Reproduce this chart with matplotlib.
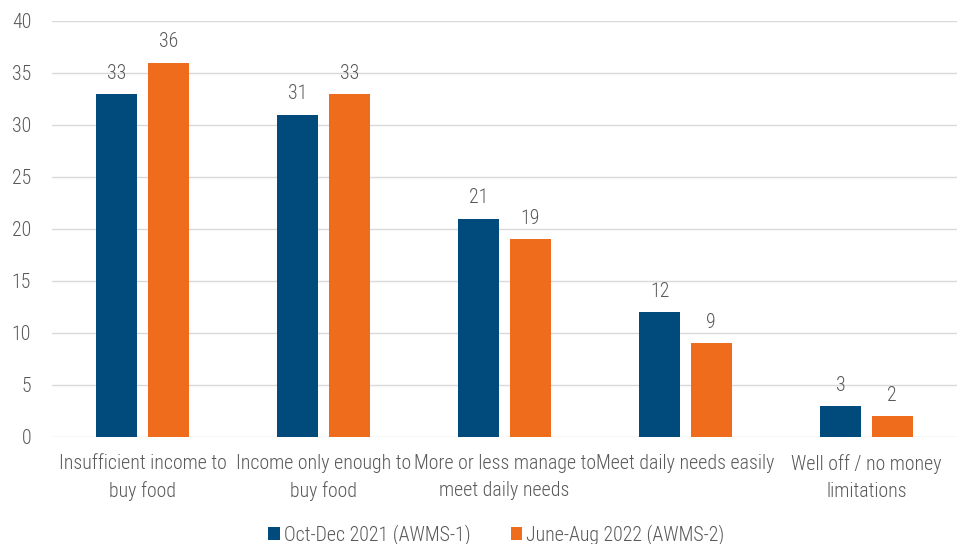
import matplotlib
matplotlib.use("Agg")
import matplotlib.pyplot as plt
import numpy as np
from matplotlib import font_manager

categories = ["Insufficient income to\nbuy food", "Income only enough to\nbuy food",
              "More or less manage to\nmeet daily needs", "Meet daily needs easily",
              "Well off / no money\nlimitations"]
series_names = ["Oct-Dec 2021 (AWMS-1)", "June-Aug 2022 (AWMS-2)"]
awms1 = [33, 31, 21, 12, 3]
awms2 = [36, 33, 19, 9, 2]
yticks = [0, 5, 10, 15, 20, 25, 30, 35, 40]

names = {f.name for f in font_manager.fontManager.ttflist}
fam = ['Roboto Condensed'] if 'Roboto Condensed' in names else []
plt.rcParams['font.family'] = fam + ['Roboto', 'DejaVu Sans']
plt.rcParams['font.weight'] = 'light'

blue = "#004A7C"
orange = "#EE6C1B"
gray = "#595959"
fs = 14.3

fig = plt.figure(figsize=(9.57, 5.44), dpi=100)
ax = fig.add_axes([52/957, (544-437)/544, 1 - 52/957, (437-21)/544])

x = np.arange(len(categories))
w = 0.225
off = (w + 0.06) / 2
b1 = ax.bar(x - off, awms1, w, color=blue, label=series_names[0], zorder=3)
b2 = ax.bar(x + off, awms2, w, color=orange, label=series_names[1], zorder=3)
for bars in (b1, b2):
    ax.bar_label(bars, padding=8, fontsize=fs, color=gray, fontweight='light')

ax.set_xlim(-0.5, len(categories) - 0.5)
ax.set_ylim(0, 40)
ax.set_yticks(yticks)
ax.set_xticks(x)
ax.set_xticklabels(categories, fontsize=fs, color=gray, linespacing=1.55)
ax.tick_params(axis='y', length=0, pad=15, labelsize=fs, labelcolor=gray)
ax.tick_params(axis='x', length=0, pad=12)
ax.grid(axis='y', color="#D9D9D9", linewidth=1, zorder=0)
for s in ax.spines.values():
    s.set_visible(False)

fig.legend(handles=[b1, b2], labels=series_names, loc='center', bbox_to_anchor=(496.5/957, 1 - 535/544),
           ncol=2, frameon=False, fontsize=fs, labelcolor=gray, handlelength=0.6, handleheight=0.6,
           handletextpad=0.2, columnspacing=2.0)

fig.savefig("out.png", dpi=100)
